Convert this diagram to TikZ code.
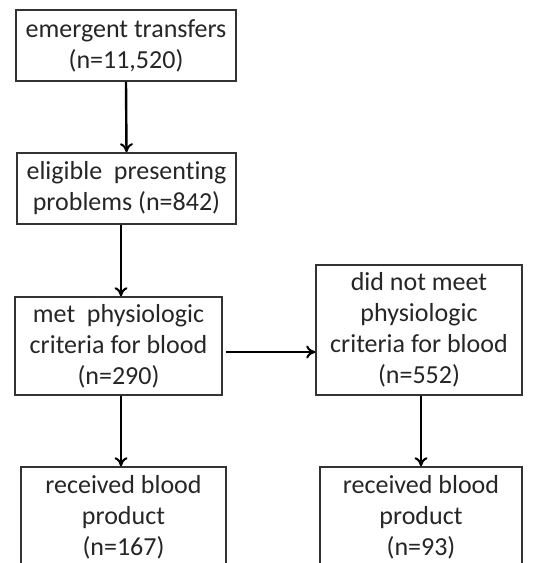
\documentclass[tikz,border=0pt]{standalone}
\usepackage{fontspec}
\setmainfont[Ligatures={NoCommon}]{Carlito}
\usetikzlibrary{arrows.meta}
\begin{document}
\begin{tikzpicture}[x=1pt,y=-1pt,
  box/.style={draw=black!80, line width=1.5pt, fill=white, text=black!85, align=center, inner sep=0pt,
    font=\fontsize{26}{31}\selectfont},
  arr/.style={line width=2.4pt, -{To[length=9pt,width=13pt,line width=2pt]}}]
\clip (0,0) rectangle (554,563);
\fill[white] (0,0) rectangle (554,563);
\node[box, minimum width=220pt, minimum height=71pt] (b1) at (126,45.5) {emergent transfers\\(n=11,520)};
\node[box, minimum width=219pt, minimum height=71pt] (b2) at (126.5,188.5) {eligible\ \ presenting\\problems (n=842)};
\node[box, minimum width=207pt, minimum height=98pt] (b3) at (118.5,346) {met\ \ physiologic\\criteria for blood\\(n=290)};
\node[box, minimum width=206pt, minimum height=130pt] (b4) at (419,330) {did not meet\\physiologic\\criteria for blood\\(n=552)};
\node[box, minimum width=205pt, minimum height=100pt] (b5) at (123.5,517) {received blood\\product\\(n=167)};
\node[box, minimum width=202pt, minimum height=100pt] (b6) at (421,517) {received blood\\product\\(n=93)};
\draw[arr] (b1.south) -- (b2.north);
\draw[arr] ([xshift=-5.5pt]b2.south) -- ([xshift=2.5pt]b3.north);
\draw[arr] ([xshift=2.5pt]b3.south) -- ([xshift=-2.5pt]b5.north);
\draw[arr] ([xshift=3pt,yshift=-6pt]b3.east) -- ([yshift=-22pt]b4.west);
\draw[arr] ([xshift=2pt]b4.south) -- (b6.north);
\end{tikzpicture}
\end{document}
